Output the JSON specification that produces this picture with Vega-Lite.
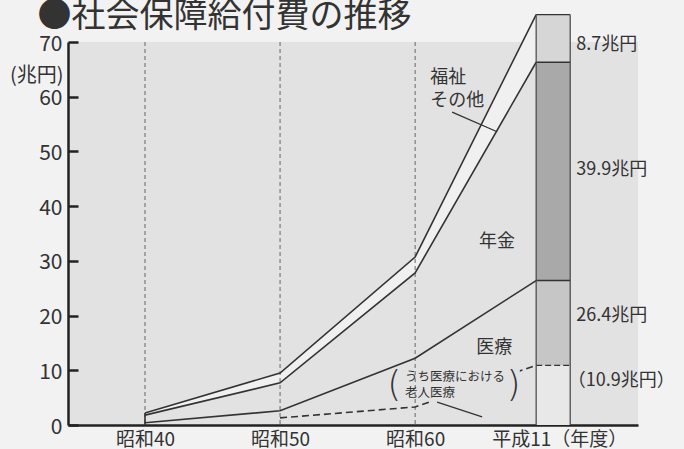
{
  "$schema": "https://vega.github.io/schema/vega-lite/v6.json",
  "width": 570,
  "height": 383,
  "autosize": {"type": "none"},
  "padding": {"left": 68, "top": 42, "right": 46, "bottom": 24},
  "background": "#f2f2f2",
  "config": {
    "view": {"fill": "#e2e2e2", "stroke": null},
    "font": "Noto Sans CJK JP",
    "text": {"font": "Noto Sans CJK JP", "color": "#333"}
  },
  "title": {
    "text": "●社会保障給付費の推移",
    "anchor": "start",
    "fontSize": 34,
    "fontWeight": "normal",
    "color": "#333",
    "font": "Noto Sans CJK JP",
    "dx": 28,
    "dy": 29,
    "offset": 6
  },
  "datasets": {
    "lines": [
      {"pos": 0, "total": 2.2, "pm": 1.8, "med": 0.4, "eld": null},
      {"pos": 1, "total": 9.5, "pm": 7.7, "med": 2.6, "eld": 1.3},
      {"pos": 2, "total": 30.7, "pm": 27.8, "med": 12.2, "eld": 3.3},
      {"pos": 2.896, "total": 75.0, "pm": 66.3, "med": 26.4, "eld": 10.9}
    ],
    "grid": [{"pos": 0}, {"pos": 1}, {"pos": 2}],
    "bar": [
      {"seg": "老人医療", "pos": 2.896, "pos2": 3.148, "val": 0, "val2": 10.9},
      {"seg": "医療", "pos": 2.896, "pos2": 3.148, "val": 10.9, "val2": 26.4},
      {"seg": "年金", "pos": 2.896, "pos2": 3.148, "val": 26.4, "val2": 66.3},
      {"seg": "福祉その他", "pos": 2.896, "pos2": 3.148, "val": 66.3, "val2": 75.0}
    ],
    "mask": [{"pos": 2.11, "pos2": 2.775, "val": 3.5, "val2": 10.4}],
    "leaders": [
      {"pos": 2.274, "val": 57.2, "pos2": 2.607, "val2": 53.6},
      {"pos": 2.163, "val": 4.2, "pos2": 2.496, "val2": 1.5}
    ],
    "labelsBig": [
      {"text": "8.7兆円", "pos": 3.193, "val": 69.5},
      {"text": "39.9兆円", "pos": 3.193, "val": 46.6},
      {"text": "26.4兆円", "pos": 3.193, "val": 19.9},
      {"text": "（10.9兆円）", "pos": 3.13, "val": 8.0},
      {"text": "福祉", "pos": 2.111, "val": 63.4},
      {"text": "その他", "pos": 2.111, "val": 59.3}
    ],
    "labelsCenter": [
      {"text": "年金", "pos": 2.607, "val": 33.5},
      {"text": "医療", "pos": 2.585, "val": 14.1}
    ],
    "labelsSmall": [
      {"text": "うち医療における", "pos": 1.925, "val": 8.8},
      {"text": "老人医療", "pos": 1.925, "val": 5.85}
    ],
    "parens": [
      {"text": "(", "pos": 1.845, "val": 7.3},
      {"text": ")", "pos": 2.728, "val": 7.3}
    ]
  },
  "layer": [
    {
      "data": {"name": "lines"},
      "mark": {"type": "area", "fill": "#f0f0f0", "opacity": 1},
      "encoding": {
        "x": {
          "field": "pos",
          "type": "quantitative",
          "scale": {"domain": [-0.57, 3.65], "nice": false, "zero": false},
          "axis": {
            "title": null,
            "values": [0, 1, 2, 3.067],
            "labelExpr": "datum.value == 0 ? '昭和40' : datum.value == 1 ? '昭和50' : datum.value == 2 ? '昭和60' : '平成11（年度）'",
            "grid": false,
            "ticks": false,
            "domainColor": "#222",
            "domainWidth": 2.5,
            "labelFontSize": 19,
            "labelColor": "#333",
            "labelPadding": 5,
            "labelFont": "Noto Sans CJK JP"
          }
        },
        "y": {
          "field": "total",
          "type": "quantitative",
          "scale": {"domain": [0, 70], "nice": false},
          "axis": {
            "title": "(兆円)",
            "titleAngle": 0,
            "titleAlign": "right",
            "titleBaseline": "middle",
            "titleX": -5,
            "titleY": 33,
            "titleFontSize": 20,
            "titleFontWeight": "normal",
            "titleColor": "#333",
            "titleFont": "Noto Sans CJK JP",
            "values": [0, 10, 20, 30, 40, 50, 60, 70],
            "grid": false,
            "domainColor": "#222",
            "domainWidth": 2.5,
            "tickColor": "#222",
            "tickWidth": 2.5,
            "tickSize": -10,
            "labelFontSize": 21,
            "labelColor": "#333",
            "labelPadding": 16,
            "labelOffset": 2,
            "labelFont": "Noto Sans CJK JP"
          }
        },
        "y2": {"field": "pm"}
      }
    },
    {
      "data": {"name": "grid"},
      "mark": {"type": "rule", "color": "#666", "strokeDash": [4, 3], "strokeWidth": 1},
      "encoding": {
        "x": {"field": "pos", "type": "quantitative"}
      }
    },
    {
      "data": {"name": "lines"},
      "transform": [{"fold": ["total", "pm", "med"], "as": ["series", "val"]}],
      "mark": {"type": "line", "color": "#333", "strokeWidth": 1.6},
      "encoding": {
        "x": {"field": "pos", "type": "quantitative"},
        "y": {"field": "val", "type": "quantitative"},
        "detail": {"field": "series"}
      }
    },
    {
      "data": {"name": "lines"},
      "transform": [{"filter": "datum.pos == 0"}],
      "mark": {"type": "rule", "color": "#333", "strokeWidth": 1.6},
      "encoding": {
        "x": {"field": "pos", "type": "quantitative"},
        "y": {"field": "total", "type": "quantitative"},
        "y2": {"datum": 0}
      }
    },
    {
      "data": {"name": "lines"},
      "transform": [{"filter": "isValid(datum.eld)"}],
      "mark": {"type": "line", "color": "#333", "strokeWidth": 1.6, "strokeDash": [7, 4]},
      "encoding": {
        "x": {"field": "pos", "type": "quantitative"},
        "y": {"field": "eld", "type": "quantitative"}
      }
    },
    {
      "data": {"name": "bar"},
      "mark": {"type": "rect"},
      "encoding": {
        "x": {"field": "pos", "type": "quantitative"},
        "x2": {"field": "pos2"},
        "y": {"field": "val", "type": "quantitative"},
        "y2": {"field": "val2"},
        "color": {
          "field": "seg",
          "type": "nominal",
          "scale": {"domain": ["老人医療", "医療", "年金", "福祉その他"], "range": ["#e8e8e8", "#c6c6c6", "#a9a9a9", "#d6d6d6"]},
          "legend": null
        }
      }
    },
    {
      "data": {"name": "bar"},
      "transform": [{"filter": "datum.seg != '老人医療'"}],
      "mark": {"type": "rule", "color": "#333", "strokeWidth": 1.4},
      "encoding": {
        "x": {"field": "pos", "type": "quantitative"},
        "x2": {"field": "pos2"},
        "y": {"field": "val2", "type": "quantitative"}
      }
    },
    {
      "data": {"name": "bar"},
      "transform": [{"filter": "datum.seg == '老人医療'"}],
      "mark": {"type": "rule", "color": "#333", "strokeWidth": 1.4, "strokeDash": [6, 3]},
      "encoding": {
        "x": {"field": "pos", "type": "quantitative"},
        "x2": {"field": "pos2"},
        "y": {"field": "val2", "type": "quantitative"}
      }
    },
    {
      "data": {"name": "bar"},
      "transform": [{"filter": "datum.seg == '福祉その他'"}],
      "mark": {"type": "rule", "color": "#444", "strokeWidth": 1.2},
      "encoding": {
        "x": {"field": "pos", "type": "quantitative"},
        "y": {"field": "val2", "type": "quantitative"},
        "y2": {"datum": 0}
      }
    },
    {
      "data": {"name": "bar"},
      "transform": [{"filter": "datum.seg == '福祉その他'"}],
      "mark": {"type": "rule", "color": "#444", "strokeWidth": 1.2},
      "encoding": {
        "x": {"field": "pos2", "type": "quantitative"},
        "y": {"field": "val2", "type": "quantitative"},
        "y2": {"datum": 0}
      }
    },
    {
      "data": {"name": "mask"},
      "mark": {"type": "rect", "fill": "#e2e2e2"},
      "encoding": {
        "x": {"field": "pos", "type": "quantitative"},
        "x2": {"field": "pos2"},
        "y": {"field": "val", "type": "quantitative"},
        "y2": {"field": "val2"}
      }
    },
    {
      "data": {"name": "leaders"},
      "mark": {"type": "rule", "color": "#333", "strokeWidth": 1.3},
      "encoding": {
        "x": {"field": "pos", "type": "quantitative"},
        "x2": {"field": "pos2"},
        "y": {"field": "val", "type": "quantitative"},
        "y2": {"field": "val2"}
      }
    },
    {
      "data": {"name": "labelsBig"},
      "mark": {"type": "text", "align": "left", "baseline": "middle", "fontSize": 18},
      "encoding": {
        "x": {"field": "pos", "type": "quantitative"},
        "y": {"field": "val", "type": "quantitative"},
        "text": {"field": "text"}
      }
    },
    {
      "data": {"name": "labelsCenter"},
      "mark": {"type": "text", "align": "center", "baseline": "middle", "fontSize": 18},
      "encoding": {
        "x": {"field": "pos", "type": "quantitative"},
        "y": {"field": "val", "type": "quantitative"},
        "text": {"field": "text"}
      }
    },
    {
      "data": {"name": "labelsSmall"},
      "mark": {"type": "text", "align": "left", "baseline": "middle", "fontSize": 12.5},
      "encoding": {
        "x": {"field": "pos", "type": "quantitative"},
        "y": {"field": "val", "type": "quantitative"},
        "text": {"field": "text"}
      }
    },
    {
      "data": {"name": "parens"},
      "mark": {"type": "text", "align": "center", "baseline": "middle", "fontSize": 36, "font": "DejaVu Sans", "fontWeight": 200},
      "encoding": {
        "x": {"field": "pos", "type": "quantitative"},
        "y": {"field": "val", "type": "quantitative"},
        "text": {"field": "text"}
      }
    }
  ]
}
